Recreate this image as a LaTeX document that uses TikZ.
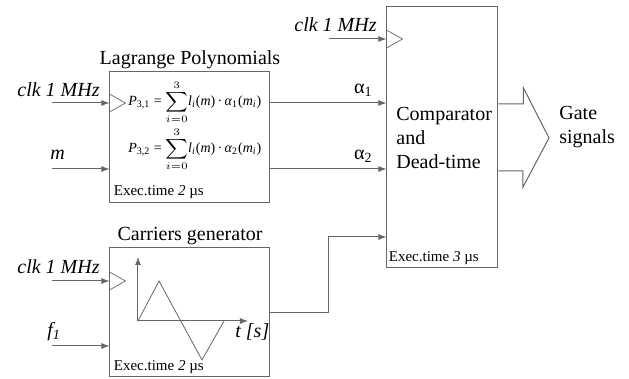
\documentclass[tikz,border=0pt]{standalone}
\usepackage{amsmath}
\usepackage{fontspec}
\setmainfont{Liberation Serif}
\usetikzlibrary{arrows.meta, positioning, calc}
\tikzset{
  block/.style={rectangle, draw=black!60, line width=0.5pt, inner sep=0pt},
  title/.style={inner sep=0pt, font=\fontsize{10}{12}\selectfont},
  signal/.style={inner sep=0pt, anchor=base west, font=\fontsize{10}{12}\selectfont\itshape},
  exec/.style={inner sep=0pt, anchor=base west, font=\fontsize{7.5}{9}\selectfont},
  formula/.style={inner sep=0pt, anchor=base west, font=\fontsize{7}{9}\selectfont},
  arrow/.style={-{Latex[length=4pt,width=3pt]}, line width=0.5pt, draw=black!60},
  wire/.style={line width=0.5pt, draw=black!60},
  clock/.style={line width=0.4pt, draw=black!55},
}
\newcommand{\exectime}[1]{Exec.time \textit{#1} µs}
\newcommand{\lagsum}[1]{\textit{P}\textsubscript{3,#1} = $\displaystyle\sum_{i=0}^{3}$\textit{l\textsubscript{i}}(\textit{m})\,·\,\textit{α}\textsubscript{#1}(\textit{m\textsubscript{i}})}
\newcommand{\clockmark}[1]{\draw[clock] ([yshift=4.5pt]#1) -- ([xshift=8pt]#1) -- ([yshift=-4.5pt]#1);}

\begin{document}
\begin{tikzpicture}[x=0.5pt, y=-0.5pt]
  \useasboundingbox (0,0) rectangle (629,379);

  \node[block, minimum width=80pt, minimum height=65.5pt] (lag) at (190,137.5) {};
  \node[block, minimum width=55.5pt, minimum height=130.5pt] (cmp) at (442.5,137.5) {};
  \node[block, minimum width=80pt, minimum height=64.5pt] (car) at (190,312.5) {};

  \node[title, above=1.3pt of lag] (lagtitle) {Lagrange Polynomials};
  \node[title, above=1.3pt of car] (cartitle) {Carriers generator};

  \node[formula] (eqone) at (128,106) {\lagsum{1}};
  \node[formula] (eqtwo) at (128,153) {\lagsum{2}};

  \node[exec] (lagexec) at ([shift={(2pt,3.8pt)}]lag.south west) {\exectime{2}};
  \node[exec] (carexec) at ([shift={(2pt,3.3pt)}]car.south west) {\exectime{2}};
  \node[exec] (cmpexec) at ([shift={(1pt,3.5pt)}]cmp.south west) {\exectime{3}};

  \node[title, anchor=west, align=left, font=\fontsize{10}{12}\selectfont]
    (cmptext) at (396,137.5) {Comparator\\and\\Dead-time};
  \node[title, anchor=west, align=left, font=\fontsize{10}{12}\selectfont]
    (gate) at (559,127.5) {Gate\\signals};

  \coordinate (clkin) at (52,103);
  \coordinate (min) at (52,169);
  \coordinate (clkcar) at (52,281);
  \coordinate (fin) at (52,346);
  \coordinate (clkcmp) at (329,39);
  \coordinate (turn) at (329,237);

  \node[signal] (clklag) at (17,97) {clk 1 MHz};
  \node[signal] (mlbl) at (50,160) {m};
  \node[signal] (clkcarlbl) at (17,274) {clk 1 MHz};
  \node[signal] (flbl) at (47,337) {f\textsubscript{1}};
  \node[signal] (clkcmplbl) at (294,32) {clk 1 MHz};

  \draw[arrow] (clkin) -- (clkin -| lag.west);
  \draw[arrow] (min) -- (min -| lag.west);
  \draw[arrow] (clkcar) -- (clkcar -| car.west);
  \draw[arrow] (fin) -- (fin -| car.west);
  \draw[arrow] (clkcmp) -- (clkcmp -| cmp.west);

  \clockmark{clkin -| lag.west}
  \clockmark{clkcar -| car.west}
  \clockmark{clkcmp -| cmp.west}

  \draw[arrow] (lag.east |- clkin) -- node[pos=0.8, above=3pt, inner sep=0pt] (aone) {α\textsubscript{1}} (cmp.west |- clkin);
  \draw[arrow] (lag.east |- min) -- node[pos=0.8, above=3pt, inner sep=0pt] (atwo) {α\textsubscript{2}} (cmp.west |- min);
  \draw[arrow] ([yshift=-0.25pt]car.east) -| (turn) -- (turn -| cmp.west);

  \draw[wire] (cmp.east |- 0,104) -- ++(25,0) -- ++(0,-16) -- (549,138) -- (523,187) -- ++(0,-16) -- (cmp.east |- 0,171);

  \coordinate (orig) at (138,321);
  \draw[arrow] (orig) -- (138,257);
  \draw[arrow] (orig) -- (248,321);
  \draw[wire, line width=0.4pt] (orig) -- (159,281) -- (202,360) -- (224,321);
  \node[signal] (tlbl) at (235,338) {t [s]};
\end{tikzpicture}
\end{document}
